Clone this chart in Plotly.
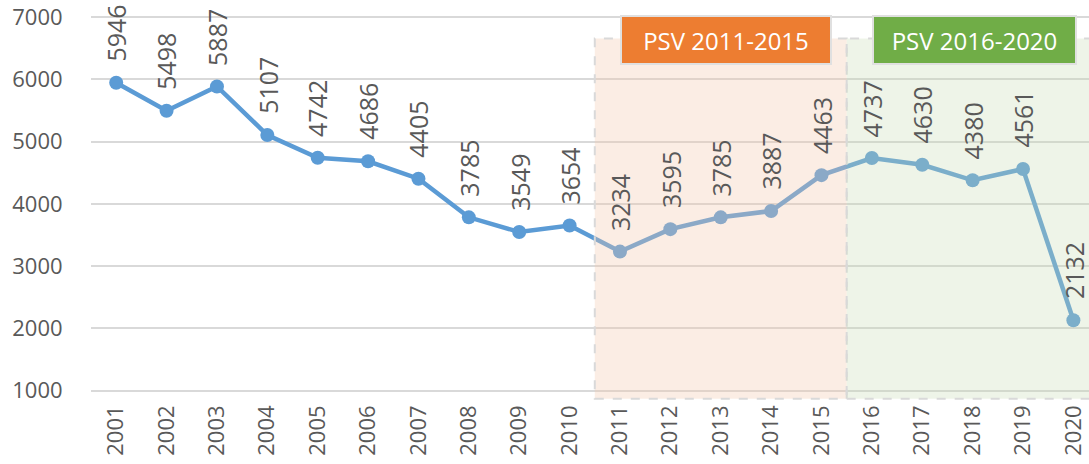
import plotly.graph_objects as go

years = [str(y) for y in range(2001, 2021)]
values = [5946, 5498, 5887, 5107, 4742, 4686, 4405, 3785, 3549, 3654,
          3234, 3595, 3785, 3887, 4463, 4737, 4630, 4380, 4561, 2132]
y_ticks = [1000, 2000, 3000, 4000, 5000, 6000, 7000]
periods = ["PSV 2011-2015", "PSV 2016-2020"]

FONT = "Open Sans"
TEXT = "#595959"

fig = go.Figure()
fig.add_trace(go.Scatter(
    x=list(range(len(years))), y=values,
    mode="lines+markers",
    line=dict(color="#5B9BD5", width=4.5),
    marker=dict(color="#5B9BD5", size=14),
    showlegend=False, hoverinfo="x+y"
))

# data labels, rotated
for i, v in enumerate(values):
    fig.add_annotation(
        x=i, y=v, text=str(v), textangle=-90, showarrow=False,
        yanchor="bottom", yshift=19,
        font=dict(family=FONT, size=25, color=TEXT)
    )

# shaded periods, drawn above the line so it looks tinted
fig.add_shape(type="rect", xref="x", yref="y", x0=9.5, x1=14.5, y0=870, y1=6660,
              fillcolor="rgba(242,200,170,0.32)", layer="above",
              line=dict(color="#D9D9D9", width=2, dash="dash"))
fig.add_shape(type="rect", xref="x", yref="y", x0=14.5, x1=19.8, y0=870, y1=6660,
              fillcolor="rgba(198,218,178,0.30)", layer="above",
              line=dict(color="#D9D9D9", width=2, dash="dash"))

fig.add_annotation(x=12.11, y=6630, text=periods[0], showarrow=False,
                   width=206, height=44, bgcolor="#ED7D31",
                   bordercolor="#E0E0E0", borderwidth=2,
                   font=dict(family=FONT, size=24, color="white"))
fig.add_annotation(x=17.04, y=6630, text=periods[1], showarrow=False,
                   width=199, height=44, bgcolor="#70AD47",
                   bordercolor="#E0E0E0", borderwidth=2,
                   font=dict(family=FONT, size=24, color="white"))

fig.update_xaxes(
    range=[-0.5, 19.31], tickmode="array", automargin=False,
    tickvals=list(range(len(years))), ticktext=years, tickangle=-90,
    showgrid=False, zeroline=False, showline=False,
    tickfont=dict(family=FONT, size=22, color=TEXT)
)
fig.update_yaxes(
    range=[850, 7100], tickmode="array", tickvals=y_ticks, automargin=False,
    showgrid=True, gridcolor="#D9D9D9", gridwidth=1.5, zeroline=False,
    ticks="outside", ticklen=23, tickcolor="rgba(0,0,0,0)",
    ticklabeloverflow="allow",
    tickfont=dict(family=FONT, size=22, color=TEXT)
)
fig.update_layout(
    width=1089, height=464,
    margin=dict(l=91, r=0, t=11, b=64),
    plot_bgcolor="white", paper_bgcolor="white",
    font=dict(family=FONT, color=TEXT)
)

# drop the default 8px body margin so the figure fills the window
fig.write_html("out.html", config={"displayModeBar": False},
               post_script="document.body.style.margin='0';")
